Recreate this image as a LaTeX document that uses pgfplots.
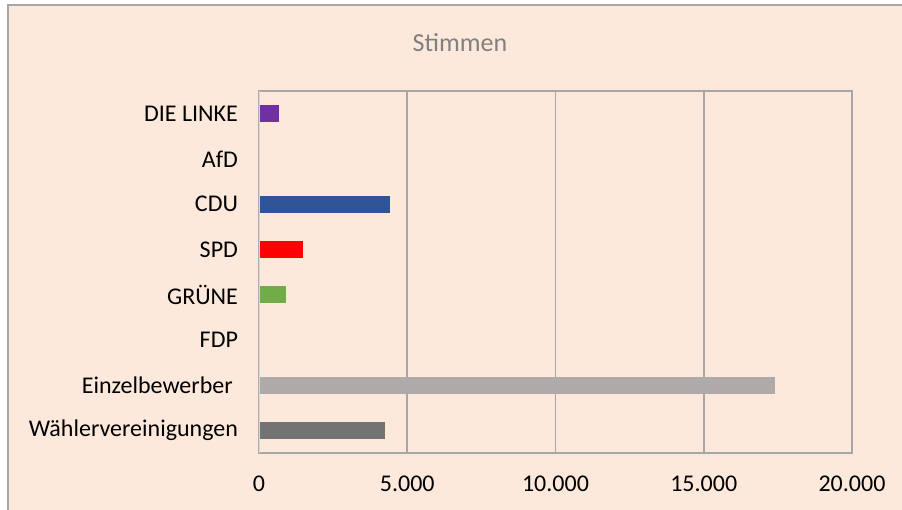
\documentclass[border=0pt]{standalone}
\usepackage{fontspec}
\setmainfont{Carlito}
\usepackage{pgfplots}
\pgfplotsset{compat=1.18}
\definecolor{bgpeach}{HTML}{FDE9DB}
\definecolor{framegray}{HTML}{A6A6A6}
\definecolor{linke}{HTML}{7030A0}
\definecolor{cdu}{HTML}{2F5597}
\definecolor{spd}{HTML}{FF0000}
\definecolor{gruene}{HTML}{70AD47}
\definecolor{einzel}{HTML}{AEAAAA}
\definecolor{waehler}{HTML}{737373}
\begin{document}
\begin{tikzpicture}[x=0.5pt,y=0.5pt]
\useasboundingbox (0,0) rectangle (902,510);
\fill[white] (0,0) rectangle (902,510);
\fill[bgpeach] (8,0) rectangle (902,505);
\draw[framegray,line width=0.75pt] (8,0) -- (8,505) -- (902,505);
\node[text=black!50,font=\fontsize{13}{15}\selectfont] at (460,467) {Stimmen};
\begin{axis}[
  at={(129.5pt,28.5pt)}, anchor=south west,
  scale only axis, width=296.5pt, height=181pt,
  xbar, bar width=8.5pt, bar shift=0pt,
  xmin=0, xmax=20000,
  ymin=-0.5, ymax=7.5,
  xtick={0,5000,10000,15000,20000},
  ytick={0,1,2,3,4,5,6,7},
  yticklabels={Wählervereinigungen,{Einzelbewerber\kern2.6pt},FDP,GRÜNE,SPD,CDU,AfD,DIE LINKE},
  scaled x ticks=false,
  /pgf/number format/assume math mode=true,
  /pgf/number format/.cd, 1000 sep={.}, /pgfplots/.cd,
  xmajorgrids, grid style={framegray,line width=0.85pt},
  major tick length=0pt,
  axis line style={framegray,line width=0.85pt},
  tick label style={font=\fontsize{12}{14}\selectfont, text=black},
  xticklabel style={yshift=-8pt},
  yticklabel style={xshift=-7pt},
]
\addplot+[fill=waehler,draw=none] coordinates {(4240,0)};
\addplot+[fill=einzel,draw=none] coordinates {(17400,1)};
\addplot+[fill=gruene,draw=none] coordinates {(900,3)};
\addplot+[fill=spd,draw=none] coordinates {(1475,4)};
\addplot+[fill=cdu,draw=none] coordinates {(4410,5)};
\addplot+[fill=linke,draw=none] coordinates {(665,7)};
\draw[color=black!15,line width=0.85pt] (axis cs:0,-0.5) -- (axis cs:0,7.5);
\end{axis}
\end{tikzpicture}
\end{document}
